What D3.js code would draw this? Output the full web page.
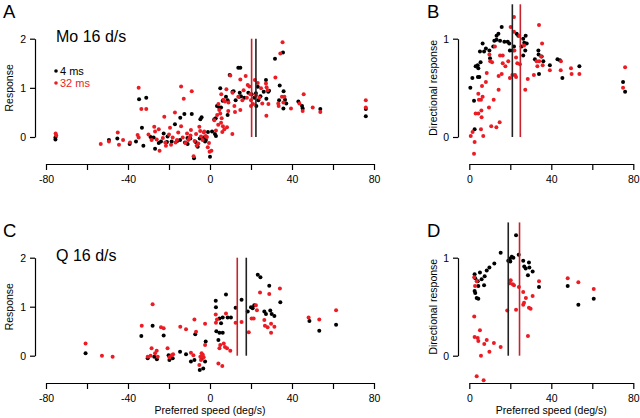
<!DOCTYPE html>
<html>
<head>
<meta charset="utf-8">
<script src="https://cdn.jsdelivr.net/npm/d3@7"></script>
<style>
body{margin:0;background:#fff;}
svg{display:block;font-family:"Liberation Sans",Arial,sans-serif;}
.axis path,.axis line{stroke:#000;stroke-width:1.2;}
.axis text{font-size:10.5px;fill:#000;font-family:"Liberation Sans",Arial,sans-serif;}
</style>
</head>
<body>
<div id="chart"></div>
<script>
//points are [preferred speed, response]

//A: Mo 16 d/s, response
var aBlack = [[-75.4,-0.01],[-75.4,-0.05],[-49.3,-0.06],[-45.2,-0.03],[-39.2,-0.14],[-36.1,-0.09],[-34.6,0.77],[-31.1,0.80],
	[-33.2,0.19],[-32.5,-0.18],[-29,0.0],[-27.5,-0.01],[-26.8,-0.24],[-25,-0.12],[-23.9,-0.09],[-22.6,0.07],[-21,-0.1],[-20.7,0.01],
	[-17.1,0.26],[-18.7,-0.09],[-16,-0.08],[-14.5,0.39],[-12.5,0.47],[-14.6,-0.06],[-12.2,-0.11],[-11,-0.02],[-10.9,-0.14],[-8.9,0.47],
	[-9.6,-0.03],[-7.8,-0.43],[-7,-0.1],[-6,-0.2],[-5,-0.03],[-4.7,0.36],[-4.1,0.4],[-3.1,-0.01],[-2.4,-0.09],[-2,-0.06],[-1,0.1],
	[0,-0.4],[1,0.11],[2.9,0.02],[2.1,0.36],[2.8,0.38],[5,0.99],[3.4,0.63],[4.5,0.6],[5.4,0.6],[6.2,0.74],[7.8,0.82],[2.4,0.06],
	[8.6,0.45],[8.6,0.75],[9.6,1.26],[11,0.92],[11.5,0.93],[12.5,0.75],[13.8,1.41],[14.8,1.41],[14.3,0.82],[14.5,0.9],[15.1,0.83],
	[16.7,0.8],[18.7,0.9],[20.3,0.87],[21.6,0.8],[22.4,0.89],[23.3,1.02],[23.6,0.75],[24.6,0.83],[22.6,0.63],[26.2,0.92],[27.3,1.16],
	[27.5,0.78],[28.4,0.92],[28.8,0.94],[31.7,1.59],[35.6,1.72],[34,1.05],[35.9,0.93],[36.6,0.76],[33.7,0.75],[35.8,0.58],[37.2,0.68],
	[43.1,0.72],[44.9,0.63],[45.2,0.58],[53.8,0.57],[76,0.57],[76,0.42]];
var aRed = [[-75.3,0.07],[-75,0.03],[-53.3,-0.14],[-49.3,-0.09],[-45,0.09],[-44.4,-0.16],[-42.4,-0.06],[-39,-0.11],[-35.3,0.04],
	[-34.8,-0.01],[-34.8,1.0],[-33.5,0.57],[-31.1,0.57],[-30,0.05],[-28.5,-0.06],[-27.2,0.21],[-26.8,0.11],[-26,-0.05],[-25,0.16],
	[-24.6,-0.28],[-23,-0.02],[-22.3,0.41],[-21.8,-0.11],[-21.5,-0.18],[-20,0.05],[-19.5,0.19],[-17.1,0.5],[-18.2,-0.01],[-19,-0.16],
	[-16.8,-0.11],[-16.1,-0.06],[-15.5,0.09],[-14.1,1.03],[-12.8,0.78],[-14.1,0.22],[-13.3,-0.01],[-12,-0.12],[-11.2,0.07],[-10.6,-0.06],
	[-10,-0.02],[-9.5,0.03],[-8.9,0.93],[-9.3,0.14],[-8,-0.39],[-7.5,-0.08],[-6.8,0.06],[-6.5,-0.18],[-5.7,-0.13],[-5.2,0.21],
	[-4.8,0.12],[-4.4,0.01],[-3.6,-0.06],[-3,0.09],[-2.8,0.11],[-2.1,0.02],[-1.5,0.0],[-1.1,-0.21],[-0.5,-0.12],[-0.2,-0.3],[0.7,-0.28],
	[5.5,0.87],[4.1,0.67],[6.5,0.76],[7.3,0.72],[5,0.48],[5.7,0.38],[5.4,0.29],[6.3,0.22],[2.9,0.13],[2.1,0.34],[3.5,0.45],[4.5,0.55],
	[6,0.1],[4,0.25],[7,0.16],[8.3,0.2],[8.9,0.53],[8,0.97],[9,0.7],[9.9,1.25],[10.9,0.06],[11,0.9],[11.9,0.63],[12.2,0.51],[14.8,1.17],
	[13.8,0.82],[14.8,0.55],[15.8,0.75],[16.4,0.95],[17.4,1.24],[18,0.8],[18.4,1.06],[19.2,1.03],[19.7,0.87],[20,0.75],[21,0.67],
	[20,0.63],[21.9,1.16],[22.5,0.85],[24.1,0.8],[24.9,0.99],[23.3,1.1],[25.5,0.68],[27.3,1.09],[27.6,1.01],[27.5,0.43],[28.1,0.95],
	[28.5,0.67],[31.9,1.21],[34.3,1.70],[35.4,1.93],[35.1,0.82],[36.3,0.82],[35.8,0.7],[33.3,0.68],[33.5,0.63],[39.5,0.58],[43.6,0.68],
	[45.7,0.87],[45.2,0.53],[50.1,0.6],[53.8,0.51],[76,0.75],[76,0.6]];

//B: Mo 16 d/s, directional response
var bBlack = [[2.6,0.08],[2.3,0.37],[0.5,0.5],[1.5,0.6],[4.2,0.61],[4.9,0.61],[3.1,0.72],[4.4,0.7],[4.1,0.73],[5.5,0.76],[5.2,0.87],
	[7.2,0.87],[6.5,0.95],[8.1,0.9],[9.8,0.88],[10.1,0.8],[11.7,0.92],[12.2,0.98],[13.3,0.99],[14.2,1.05],[13.3,1.03],[15.8,1.12],
	[15,0.98],[17.1,0.97],[18.7,0.97],[19.5,0.95],[19.8,0.88],[21.1,0.88],[21.8,0.92],[23.1,1.05],[23.9,1.03],[26.3,1.0],[27.5,1.03],
	[26.8,0.96],[28,0.95],[25.5,0.92],[26.3,0.83],[27.3,0.88],[32,0.79],[33.7,0.88],[33.8,0.84],[35.3,0.82],[36.1,0.77],[34,0.64],
	[39.3,0.73],[43,0.79],[44.2,0.78],[45.4,0.6],[53.7,0.72],[75,0.56],[76,0.46]];
var bRed = [[2.3,-0.17],[2.6,-0.05],[0.7,0.01],[1.6,0.05],[6.8,0.01],[5.7,0.08],[10.7,0.11],[13.2,0.1],[14.8,0.15],[9.6,0.3],
	[5.9,0.27],[3.1,0.24],[4.4,0.24],[6,0.2],[11.9,0.38],[14.3,0.48],[5.7,0.38],[4.7,0.38],[6.5,0.41],[4.4,0.44],[6.2,0.52],[8.1,0.56],
	[8.5,0.65],[11.1,0.76],[9.8,0.84],[10.2,0.77],[14.3,0.62],[15.8,0.64],[21.8,1.22],[20.2,1.12],[21.8,1.07],[24.4,1.03],[26.7,0.93],
	[22,0.88],[22.8,0.81],[19,0.77],[16.3,0.75],[15,0.83],[16.3,0.83],[12.5,0.92],[17.6,0.72],[23.4,0.75],[24.7,0.74],[21,0.63],
	[19.8,0.6],[22.3,0.63],[22.8,0.61],[27.3,0.48],[28.5,0.59],[31.5,0.63],[34,1.14],[32.8,0.77],[34.1,0.77],[35,0.82],[35.5,0.95],
	[35.8,0.73],[33.2,0.72],[39.3,0.68],[44.7,0.77],[44.6,0.68],[49.6,0.7],[49.9,0.64],[53.7,0.64],[76,0.71],[75,0.5]];

//C: Q 16 d/s, response
var cBlack = [[-60.7,0.05],[-33.5,0.4],[-28,0.61],[-30.4,-0.05],[-25.9,-0.07],[-27.2,-0.02],[-22.6,0.41],[-20.2,0.01],[-19.8,-0.09],
	[-18.2,-0.05],[-14.6,0.08],[-11.7,0.03],[-9.3,-0.12],[-7.2,0.44],[-7.6,-0.09],[-5,-0.29],[-3.3,-0.26],[-2.4,-0.12],[-2.1,0.29],
	[-3.9,-0.05],[23.3,1.65],[24.6,1.6],[28.9,1.43],[34.3,1.09],[7.8,1.25],[15.4,1.14],[2.8,1.12],[2.9,0.99],[12.5,0.98],[6.2,0.78],
	[8.6,0.78],[10.2,0.78],[4.6,0.76],[5.4,0.66],[3.1,0.5],[4.6,0.47],[6.2,0.47],[18.4,0.9],[20,0.99],[20.8,0.97],[21.6,1.03],
	[26.5,0.9],[27.3,0.85],[29.4,0.92],[30.1,0.85],[31.4,0.81],[4.1,0.32],[48.5,0.71],[53.3,0.51],[61.5,0.63]];
var cRed = [[-60.7,0.25],[-52.7,0],[-47.5,-0.02],[-33.3,0.61],[-28,1.05],[-28.5,0.15],[-30.4,-0.02],[-29,0.0],[-26.8,0.05],[-26,0.1],
	[-25.5,-0.02],[-23.9,0.58],[-22.6,0.56],[-20.7,0.15],[-19.8,-0.03],[-18.7,0.01],[-18,0.03],[-14.5,0.59],[-11.7,0.54],[-9.3,0.06],
	[-7.6,0.74],[-6.8,0.49],[-8.1,0.01],[-4.7,-0.02],[-5.2,-0.19],[-4.1,0.05],[-4.4,-0.09],[-2.4,0.22],[-2.4,0.65],[-3.1,-0.03],
	[-3.5,0.02],[34.1,1.37],[28.9,1.26],[24.4,1.29],[2.8,0.84],[7.8,0.86],[3.4,0.74],[2.9,0.67],[12.5,0.67],[15.4,0.69],[18.9,0.48],
	[22.4,1.03],[22.9,0.93],[20.3,0.76],[21.3,0.76],[26.5,0.73],[26.8,0.61],[28.1,0.58],[29.8,0.65],[31.4,0.59],[29.8,0.47],[5,0.22],
	[4.6,0.15],[6.7,0.25],[7.3,0.18],[8.3,0.15],[9.9,0.1],[4.1,-0.16],[6,-0.21],[48.1,0.78],[53.3,0.74],[61.5,0.93]];

//D: Q 16 d/s, directional response
var dBlack = [[22.8,1.23],[15.3,1.05],[24.1,1.03],[19,0.97],[19.8,0.99],[20.7,1.01],[21.5,1.0],[20,0.96],[26.3,0.97],[29.1,0.95],
	[26.8,0.91],[27.5,0.89],[29.3,0.9],[30.9,0.86],[28.6,0.82],[12.2,0.94],[9.8,0.9],[8.5,0.87],[5.2,0.85],[2.6,0.83],[2.9,0.79],
	[7.5,0.81],[6,0.78],[4.1,0.76],[7.2,0.72],[4.4,0.71],[2.6,0.66],[2.9,0.64],[3.6,0.59],[4.4,0.58],[34,0.7],[48,0.71],[53.2,0.52],
	[60.7,0.58]];
var dRed = [[2.4,0.8],[3.6,0.76],[2.8,0.71],[20.2,0.77],[21.2,0.73],[19.8,0.74],[21.8,0.72],[34,0.76],[24.2,0.7],[26.3,0.65],
	[27.6,0.59],[26.7,0.54],[26.3,0.52],[30.9,0.61],[29.1,0.49],[29.9,0.48],[22.8,0.47],[18.5,0.46],[2.4,0.4],[5.2,0.26],[2.6,0.19],
	[4.1,0.18],[4.4,0.15],[8.5,0.16],[7.3,0.12],[12,0.13],[15.3,0.09],[9.8,0.04],[5.7,0],[28.6,0.2],[48,0.79],[53.2,0.75],[60.7,0.68],
	[3.6,-0.21],[7,-0.25]];

//median lines [black, red]
var aMedians = [22.4, 20.3];
var bMedians = [21.0, 24.9];
var cMedians = [17.7, 13.3];
var dMedians = [19.0, 24.5];

var redColor = "#ec1c24";

var svg = d3.select('#chart').append("svg")
	.attr("width",640)
	.attr("height",418);

function plotPanel(p){

	var xScale = d3.scaleLinear()
		.domain(p.xDomain)
		.range(p.xRange);

	var yScale = d3.scaleLinear()
		.domain(p.yDomain)
		.range(p.yRange);

	var xAxis = d3.axisBottom(xScale)
		.tickValues(p.xTicks)
		.tickSize(6)
		.tickPadding(6)
		.tickSizeOuter(0)
		.tickFormat(function(d){
			return (d % 40 == 0) ? d : "";
		});

	var yAxis = d3.axisLeft(yScale)
		.tickValues(p.yTicks)
		.tickSize(5)
		.tickPadding(4)
		.tickSizeOuter(0)
		.tickFormat(d3.format("d"));

	svg.append("g")
		.attr("class","axis")
		.attr("transform","translate(0,"+p.xAxisY+")")
		.call(xAxis);

	svg.append("g")
		.attr("class","axis")
		.attr("transform","translate("+p.yAxisX+",0)")
		.call(yAxis);

	//y label
	svg.append("text")
		.attr("transform","translate("+p.yLabelX+","+((p.yRange[0]+p.yRange[1])/2)+") rotate(-90)")
		.attr("text-anchor","middle")
		.style("font-size","10.5px")
		.attr("fill","#000")
		.text(p.yLabel);

	if(p.xLabel){
		svg.append("text")
			.attr("x",(p.xRange[0]+p.xRange[1])/2)
			.attr("y",p.xAxisY+31)
			.attr("text-anchor","middle")
			.style("font-size","10.5px")
			.attr("fill","#000")
			.text(p.xLabel);
	}

	//panel letter
	svg.append("text")
		.attr("x",p.letterX)
		.attr("y",p.letterY)
		.style("font-size","18.5px")
		.attr("fill","#000")
		.text(p.letter);

	if(p.title){
		svg.append("text")
			.attr("x",56)
			.attr("y",p.titleY)
			.style("font-size","16px")
			.attr("fill","#000")
			.text(p.title);
	}

	svg.append("g").selectAll("circle")
		.data(p.black)
		.enter()
		.append("circle")
		.attr("cx",function(d){ return xScale(d[0]); })
		.attr("cy",function(d){ return yScale(d[1]); })
		.attr("r",2)
		.style("fill","#000");

	svg.append("g").selectAll("circle")
		.data(p.red)
		.enter()
		.append("circle")
		.attr("cx",function(d){ return xScale(d[0]); })
		.attr("cy",function(d){ return yScale(d[1]); })
		.attr("r",2)
		.style("fill",redColor);

	//median lines
	var lineColors = ["#222", "#c8232c"];
	svg.append("g").selectAll("line")
		.data(p.medians)
		.enter()
		.append("line")
		.attr("x1",function(d){ return xScale(d); })
		.attr("x2",function(d){ return xScale(d); })
		.attr("y1",yScale(0))
		.attr("y2",yScale(p.lineTop))
		.style("stroke",function(d,i){ return lineColors[i]; })
		.style("stroke-width",1.6);
}

var wideTicks = [-80,-60,-40,-20,0,20,40,60,80];
var posTicks = [0,20,40,60,80];

plotPanel({letter:"A", letterX:3, letterY:18, title:"Mo 16 d/s", titleY:42,
	xDomain:[-80,80], xRange:[46,374], yDomain:[0,2], yRange:[137,38.7],
	xAxisY:164, yAxisX:35, xTicks:wideTicks, yTicks:[0,1,2], yLabelX:13, yLabel:"Response",
	black:aBlack, red:aRed, medians:aMedians, lineTop:2});

plotPanel({letter:"B", letterX:427, letterY:18,
	xDomain:[0,80], xRange:[469.3,633.3], yDomain:[0,1], yRange:[137,38.7],
	xAxisY:164, yAxisX:458, xTicks:posTicks, yTicks:[0,1], yLabelX:437, yLabel:"Directional response",
	black:bBlack, red:bRed, medians:bMedians, lineTop:1.35});

plotPanel({letter:"C", letterX:3, letterY:237, title:"Q 16 d/s", titleY:261,
	xDomain:[-80,80], xRange:[46,374], yDomain:[0,2], yRange:[355.7,257.7],
	xAxisY:383, yAxisX:35, xTicks:wideTicks, yTicks:[0,1,2], yLabelX:13, yLabel:"Response",
	xLabel:"Preferred speed (deg/s)",
	black:cBlack, red:cRed, medians:cMedians, lineTop:2});

plotPanel({letter:"D", letterX:427, letterY:237,
	xDomain:[0,80], xRange:[469.3,633.3], yDomain:[0,1], yRange:[355.7,257.7],
	xAxisY:383, yAxisX:458, xTicks:posTicks, yTicks:[0,1], yLabelX:437, yLabel:"Directional response",
	xLabel:"Preferred speed (deg/s)",
	black:dBlack, red:dRed, medians:dMedians, lineTop:1.36});

//legend in A
var legend = [["4 ms","#000"],["32 ms",redColor]];
var legendG = svg.append("g").selectAll("g")
	.data(legend)
	.enter()
	.append("g")
	.attr("transform",function(d,i){ return "translate(56,"+(71+i*12)+")"; });
legendG.append("circle")
	.attr("r",1.8)
	.style("fill",function(d){ return d[1]; });
legendG.append("text")
	.attr("x",4)
	.attr("y",4)
	.style("font-size","11px")
	.attr("fill",function(d){ return d[1]; })
	.text(function(d){ return d[0]; });
</script>
</body>
</html>
